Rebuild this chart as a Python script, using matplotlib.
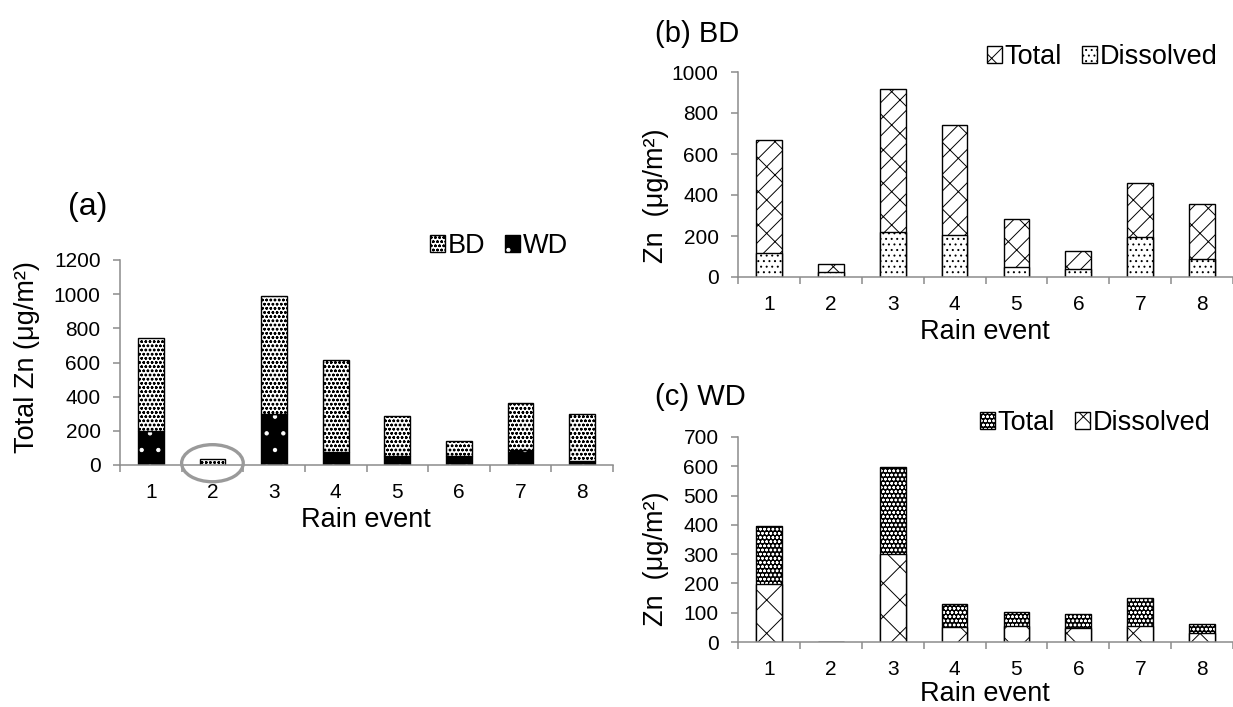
import numpy as np
import matplotlib
matplotlib.use('Agg')
import matplotlib.pyplot as plt
from matplotlib.patches import Patch, Ellipse

plt.rcParams['font.family'] = ['Liberation Sans', 'DejaVu Sans']
plt.rcParams['hatch.linewidth'] = 0.7

# ---
# Data
# ---
events = [1, 2, 3, 4, 5, 6, 7, 8]

# (a) total Zn, stacked: WD at the bottom, BD on top
a_wd = [200, 0, 300, 76, 55, 50, 90, 25]
a_bd = [545, 35, 690, 539, 232, 90, 270, 275]

# (b) BD
b_total = [667, 62, 916, 740, 281, 125, 458, 356]
b_dissolved = [115, 23, 221, 203, 49, 39, 194, 89]

# (c) WD
c_total = [396, 0, 599, 130, 103, 97, 149, 61]
c_dissolved = [197, 0, 299, 51, 53, 48, 56, 30]

W, H = 1233, 707
fig = plt.figure(figsize=(W / 100, H / 100), dpi=100)

def px_box(x0, x1, y_top, y_bot):
    # pixel box (top-origin) -> figure fraction rect
    return [x0 / W, 1 - y_bot / H, (x1 - x0) / W, (y_bot - y_top) / H]

def fy(y):
    return 1 - y / H

AXIS_GRAY = '#8c8c8c'
BAR_W = 0.417
EDGE_LW = 1.0

def style_axis(ax, ymax, ystep):
    for s in ['top', 'right']:
        ax.spines[s].set_visible(False)
    for s in ['left', 'bottom']:
        ax.spines[s].set_color(AXIS_GRAY)
        ax.spines[s].set_linewidth(1.1)
    ax.set_xlim(0.5, 8.5)
    ax.set_ylim(0, ymax)
    ax.set_yticks(np.arange(0, ymax + 1, ystep))
    ax.set_xticks(events)
    ax.set_xticks(np.arange(0.5, 9, 1), minor=True)
    ax.tick_params(axis='x', which='major', length=0, pad=13, labelsize=15)
    ax.tick_params(axis='x', which='minor', length=5, color=AXIS_GRAY, width=1.1, direction='out')
    ax.tick_params(axis='y', length=5, color=AXIS_GRAY, width=1.1, direction='out', pad=9, labelsize=15)

def dark_bar(ax, x, h, bottom=0, hatch='.', width=BAR_W):
    # black fill with white pattern, black outline on top
    ax.bar(x, h, width, bottom=bottom, color='black', edgecolor='white', hatch=hatch, linewidth=0)
    ax.bar(x, h, width, bottom=bottom, fill=False, edgecolor='black', linewidth=EDGE_LW)

def dark_handle(hatch):
    return (Patch(facecolor='black', edgecolor='white', hatch=hatch, linewidth=0),
            Patch(facecolor='none', edgecolor='black', linewidth=1.0))

leg_kw = dict(frameon=False, ncol=2, fontsize=19.5, handlelength=0.55, handleheight=0.55,
              handletextpad=0.1, columnspacing=0.75, borderpad=0, borderaxespad=0)

# ---
# (a)
# ---
ax_a = fig.add_axes(px_box(120, 613, 260, 465))
style_axis(ax_a, 1200, 200)
dark_bar(ax_a, events, a_wd, hatch='.')
ax_a.bar(events, a_bd, BAR_W, bottom=a_wd, color='white', edgecolor='black', hatch='oooo', linewidth=EDGE_LW)
a_tot = np.array(a_wd) + np.array(a_bd)
ax_a.add_patch(Ellipse((events[1], a_tot[1] * 0.3), 1.0, 217, fill=False,
                       edgecolor='#9a9a9a', linewidth=2.4, clip_on=False, zorder=5))
fig.text(68 / W, fy(207), '(a)', fontsize=23, va='center', ha='left')
fig.text(27 / W, fy(357), 'Total Zn (μg/m²)', fontsize=19.5, rotation=90, va='center', ha='center')
fig.text(366 / W, fy(527), 'Rain event', fontsize=19.5, va='baseline', ha='center')
fig.legend(handles=[Patch(facecolor='white', edgecolor='black', hatch='oooo'), dark_handle('.')],
           labels=['BD', 'WD'], loc='center left', bbox_to_anchor=(430 / W, fy(246)), **leg_kw)

# ---
# (b) BD
# ---
ax_b = fig.add_axes(px_box(738, 1233, 72, 277))
style_axis(ax_b, 1000, 200)
ax_b.bar(events, b_total, BAR_W, color='white', edgecolor='black', hatch='//\\', linewidth=EDGE_LW)
ax_b.bar(events, b_dissolved, BAR_W, color='white', edgecolor='black', hatch='...', linewidth=EDGE_LW)
fig.text(655 / W, fy(34), '(b) BD', fontsize=21, va='center', ha='left')
fig.text(656 / W, fy(196), 'Zn  (μg/m²)', fontsize=19.5, rotation=90, va='center', ha='center')
fig.text(985 / W, fy(339), 'Rain event', fontsize=19.5, va='baseline', ha='center')
fig.legend(handles=[Patch(facecolor='white', edgecolor='black', hatch='//\\'),
                    Patch(facecolor='white', edgecolor='black', hatch='...')],
           labels=['Total', 'Dissolved'], loc='center left', bbox_to_anchor=(987 / W, fy(57)), **leg_kw)

# ---
# (c) WD
# ---
ax_c = fig.add_axes(px_box(738, 1233, 437, 642))
style_axis(ax_c, 700, 100)
dark_bar(ax_c, events, c_total, hatch='oooo')
ax_c.bar(events, c_dissolved, BAR_W, color='white', edgecolor='black', hatch='x', linewidth=EDGE_LW)
fig.text(655 / W, fy(397), '(c) WD', fontsize=21, va='center', ha='left')
fig.text(656 / W, fy(559), 'Zn  (μg/m²)', fontsize=19.5, rotation=90, va='center', ha='center')
fig.text(985 / W, fy(701), 'Rain event', fontsize=19.5, va='baseline', ha='center')
fig.legend(handles=[dark_handle('oooo'), Patch(facecolor='white', edgecolor='black', hatch='x')],
           labels=['Total', 'Dissolved'], loc='center left', bbox_to_anchor=(980 / W, fy(423)), **leg_kw)

fig.savefig('out.png', dpi=100)
